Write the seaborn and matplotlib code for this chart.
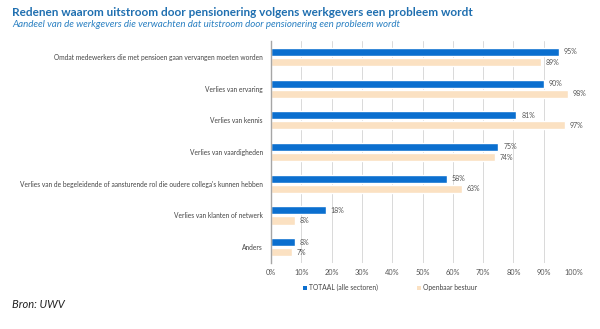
import matplotlib
matplotlib.use("Agg")
import matplotlib.pyplot as plt
from matplotlib.patches import Patch
import seaborn as sns
import pandas as pd

categories = [
    "Omdat medewerkers die met pensioen gaan vervangen moeten worden",
    "Verlies van ervaring",
    "Verlies van kennis",
    "Verlies van vaardigheden",
    "Verlies van de begeleidende of aansturende rol die oudere collega's kunnen hebben",
    "Verlies van klanten of netwerk",
    "Anders",
]
series_names = ["TOTAAL (alle sectoren)", "Openbaar bestuur"]
totaal = [95, 90, 81, 75, 58, 18, 8]
openbaar = [89, 98, 97, 74, 63, 8, 7]
x_ticks = [0, 10, 20, 30, 40, 50, 60, 70, 80, 90, 100]

df = pd.DataFrame({
    "categorie": categories * 2,
    "reeks": [series_names[0]] * len(categories) + [series_names[1]] * len(categories),
    "waarde": totaal + openbaar,
})

blue = "#0b6fcf"
peach = "#fbe1c2"

sns.set_theme(style="white")
plt.rcParams["font.family"] = ["Lato", "DejaVu Sans"]

fig = plt.figure(figsize=(6.0, 3.29), dpi=100)
ax = fig.add_axes([0.4517, 0.2006, 0.505, 0.6744])

sns.barplot(data=df, y="categorie", x="waarde", hue="reeks", order=categories,
            hue_order=series_names, palette=[blue, peach], orient="h",
            width=0.64, gap=0.2, ax=ax, legend=False, saturation=1)

for cont in ax.containers:
    ax.bar_label(cont, labels=[f"{v:.0f}%" for v in cont.datavalues],
                 padding=3.5, fontsize=5, color="#555555")

ax.set_xlim(0, 100)
ax.set_ylim(6.5, -0.5)
ax.set_xticks(x_ticks)
ax.set_xticklabels([f"{t}%" for t in x_ticks], fontsize=5.3, color="#555555")
ax.tick_params(axis="x", length=0, pad=4)
ax.tick_params(axis="y", length=0, pad=6, labelsize=4.8, labelcolor="#444444")
ax.set_xlabel("")
ax.set_ylabel("")
ax.grid(axis="x", color="#d9d9d9", linewidth=0.7)
ax.set_axisbelow(True)
for s in ["top", "right", "bottom"]:
    ax.spines[s].set_visible(False)
ax.spines["left"].set_color("#a6a6a6")
ax.spines["left"].set_linewidth(1.0)

handles = [Patch(facecolor=blue, edgecolor="none"), Patch(facecolor=peach, edgecolor="none")]
fig.legend(handles, series_names, loc="center", bbox_to_anchor=(0.65, 0.125),
           ncol=2, frameon=False, fontsize=4.9, handlelength=0.5, handleheight=0.5,
           handletextpad=0.3, columnspacing=5.8, labelcolor="#444444")

fig.text(0.02, 0.963, "Redenen waarom uitstroom door pensionering volgens werkgevers een probleem wordt",
         fontsize=8.45, fontweight="bold", color="#1f6fb0", va="center", ha="left")
fig.text(0.02, 0.925, "Aandeel van de werkgevers die verwachten dat uitstroom door pensionering een probleem wordt",
         fontsize=7.05, fontstyle="italic", color="#2a80c2", va="center", ha="left")
fig.text(0.02, 0.073, "Bron: UWV", fontsize=8, fontstyle="italic", color="#222222",
         va="center", ha="left")

fig.savefig("out.png", dpi=100, facecolor="white")
